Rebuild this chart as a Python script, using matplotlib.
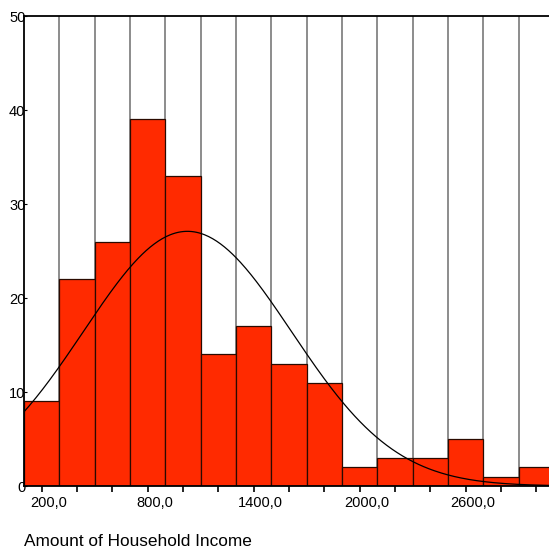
import numpy as np
import matplotlib
matplotlib.use("Agg")
import matplotlib.pyplot as plt
import matplotlib.transforms as mtransforms

# histogram of household income (bins of 200, centred on 200, 400, ...)
bin_centers = [200, 400, 600, 800, 1000, 1200, 1400, 1600, 1800,
               2000, 2200, 2400, 2600, 2800, 3000]
counts = [9, 22, 26, 39, 33, 14, 17, 13, 11, 2, 3, 3, 5, 1, 2]
bin_width = 200

# fitted normal curve parameters
curve_mean = 1025.0
curve_std = 589.0
n_cases = sum(counts)

x_tick_labels = ["200,0", "800,0", "1400,0", "2000,0", "2600,0"]
x_tick_values = [200, 800, 1400, 2000, 2600]
y_ticks = [0, 10, 20, 30, 40, 50]

plt.rcParams["font.family"] = ["Liberation Sans", "DejaVu Sans"]

fig = plt.figure(figsize=(5.49, 5.51), dpi=100)
W, H = 549, 551
ax = fig.add_axes([24 / W, 65 / H, 530 / W, 470 / H])

lo = bin_centers[0] - bin_width / 2
hi = bin_centers[-1] + bin_width / 2

# full-height separators at the bin edges
for e in np.arange(lo + bin_width, hi, bin_width):
    ax.axvline(e, color="#6e6e6e", linewidth=1.1, zorder=1)

ax.bar(bin_centers, counts, width=bin_width, color="#ff2a00",
       edgecolor="#2a0a00", linewidth=0.9, zorder=2)

xs = np.linspace(lo, hi, 400)
ys = n_cases * bin_width / (curve_std * np.sqrt(2 * np.pi)) * \
    np.exp(-0.5 * ((xs - curve_mean) / curve_std) ** 2)
ax.plot(xs, ys, color="black", linewidth=0.9, zorder=3)

ax.set_xlim(lo, hi)
ax.set_ylim(0, 50)

for s in ["left", "bottom", "top"]:
    ax.spines[s].set_color("black")
    ax.spines[s].set_linewidth(1.3)
ax.spines["right"].set_visible(False)

ax.set_yticks(y_ticks)
ax.set_yticklabels([str(v) for v in y_ticks], fontsize=10.5)
ax.tick_params(axis="y", length=2, direction="in", pad=-1)

ax.set_xticks(np.arange(200, 3001, 200), minor=True)
ax.set_xticks(x_tick_values)
ax.set_xticklabels(x_tick_labels, fontsize=10.5)
ax.tick_params(axis="x", which="both", length=4, width=1.2, pad=3)

# labels in the source sit a few pixels right of their ticks
offset = mtransforms.ScaledTranslation(7 / 100, 0, fig.dpi_scale_trans)
for lbl in ax.get_xticklabels():
    lbl.set_transform(lbl.get_transform() + offset)

fig.text(24 / W, 1 - 541 / H, "Amount of Household Income",
         fontsize=12.4, va="center", ha="left")

fig.savefig("out.png", dpi=100)
